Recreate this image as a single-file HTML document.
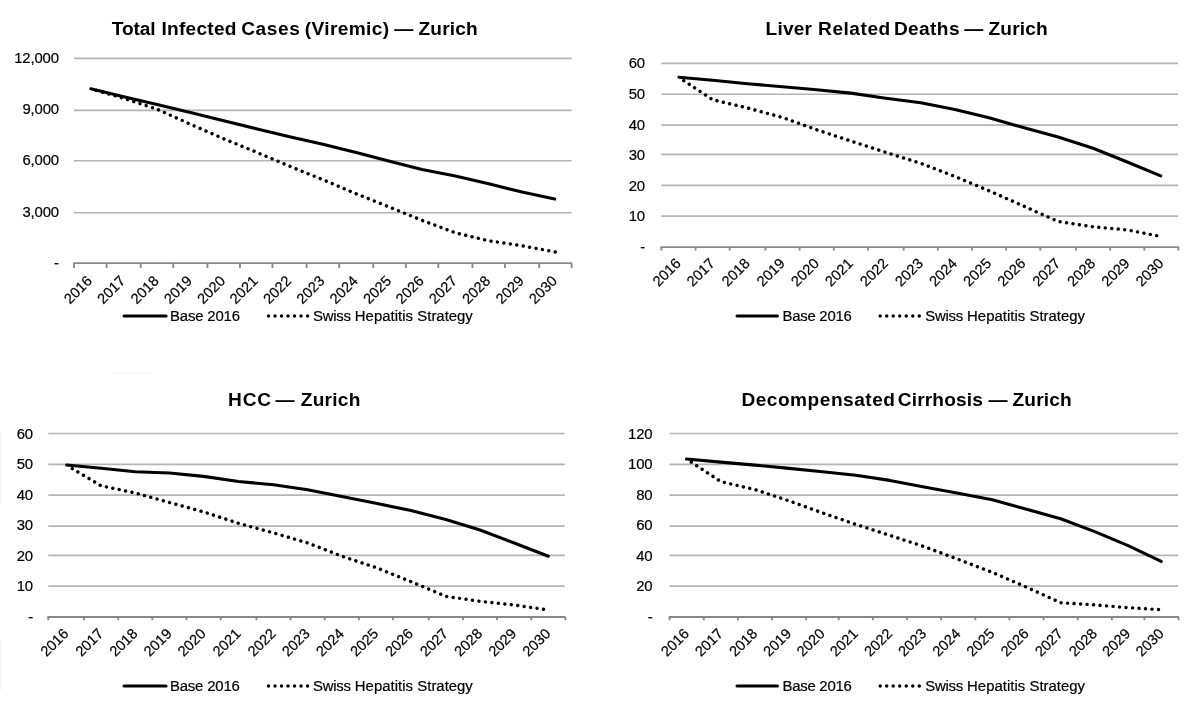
<!DOCTYPE html>
<html lang="en">
<head>
<meta charset="utf-8">
<title>Zurich hepatitis C projections</title>
<style>
html,body{margin:0;padding:0;background:#fff;}
body{width:1200px;height:715px;overflow:hidden;}
svg{display:block;}
text{font-family:"Liberation Sans", Arial, Helvetica, sans-serif;fill:#000;stroke:#000;stroke-width:0.2px;stroke-linejoin:round;}
.t{font-size:19.1px;font-weight:700;stroke:none;}
.a{font-size:14.9px;}
.y{letter-spacing:-0.15px;}
.r{font-size:14.6px;}
.g{stroke:#b4b4b4;stroke-width:1.7;fill:none;}
.x{stroke:#888888;stroke-width:1.85;fill:none;}
.s{stroke:#000;stroke-width:3.1;fill:none;stroke-linecap:round;stroke-linejoin:round;}
.d{stroke:#000;stroke-width:3.45;fill:none;stroke-linecap:round;stroke-linejoin:round;stroke-dasharray:0.01 6.5;stroke-dashoffset:1;}
</style>
</head>
<body>
<svg width="1200" height="715" viewBox="0 0 1200 715">
<rect x="0" y="0" width="1200" height="715" fill="#ffffff"/>
<g fill="#f6f6f6"><rect x="0" y="432" width="1.6" height="72"/><rect x="0" y="640" width="1.6" height="50"/><rect x="112" y="372.6" width="40" height="1.2"/></g>
<g>
<text class="t" y="35.1"><tspan x="111.75" textLength="43.88" lengthAdjust="spacing">Total</tspan> <tspan x="161.56" textLength="74.87" lengthAdjust="spacing">Infected</tspan> <tspan x="241.2" textLength="58.57" lengthAdjust="spacing">Cases</tspan> <tspan x="304.85" textLength="84.14" lengthAdjust="spacing">(Viremic)</tspan> <tspan x="394.35">—</tspan> <tspan x="418.45" textLength="59.27" lengthAdjust="spacing">Zurich</tspan></text>
<line class="g" x1="74" y1="58.3" x2="571.6" y2="58.3"/>
<line class="g" x1="74" y1="110.33" x2="571.6" y2="110.33"/>
<line class="g" x1="74" y1="160.74" x2="571.6" y2="160.74"/>
<line class="g" x1="74" y1="212.77" x2="571.6" y2="212.77"/>
<line class="x" x1="73.17" y1="263.18" x2="571.96" y2="263.18"/>
<path class="x" d="M74.1 263.18v4.9M106.62 263.18v4.9M140.77 263.18v4.9M173.29 263.18v4.9M207.43 263.18v4.9M239.95 263.18v4.9M272.47 263.18v4.9M306.62 263.18v4.9M339.14 263.18v4.9M373.28 263.18v4.9M405.8 263.18v4.9M438.32 263.18v4.9M472.47 263.18v4.9M504.99 263.18v4.9M539.14 263.18v4.9M571.66 263.18v4.9"/>
<text class="a y" text-anchor="end" x="58.9" y="63">12,000</text>
<text class="a y" text-anchor="end" x="58.9" y="114.22">9,000</text>
<text class="a y" text-anchor="end" x="58.9" y="165.44">6,000</text>
<text class="a y" text-anchor="end" x="58.9" y="216.66">3,000</text>
<text class="a y" text-anchor="end" x="58.9" y="267.88">-</text>
<text class="a r" text-anchor="end" transform="translate(92.96 281.68) rotate(-45)">2016</text>
<text class="a r" text-anchor="end" transform="translate(126.29 281.68) rotate(-45)">2017</text>
<text class="a r" text-anchor="end" transform="translate(159.63 281.68) rotate(-45)">2018</text>
<text class="a r" text-anchor="end" transform="translate(192.96 281.68) rotate(-45)">2019</text>
<text class="a r" text-anchor="end" transform="translate(226.29 281.68) rotate(-45)">2020</text>
<text class="a r" text-anchor="end" transform="translate(258.81 281.68) rotate(-45)">2021</text>
<text class="a r" text-anchor="end" transform="translate(292.14 281.68) rotate(-45)">2022</text>
<text class="a r" text-anchor="end" transform="translate(325.48 281.68) rotate(-45)">2023</text>
<text class="a r" text-anchor="end" transform="translate(358.81 281.68) rotate(-45)">2024</text>
<text class="a r" text-anchor="end" transform="translate(392.14 281.68) rotate(-45)">2025</text>
<text class="a r" text-anchor="end" transform="translate(424.66 281.68) rotate(-45)">2026</text>
<text class="a r" text-anchor="end" transform="translate(458 281.68) rotate(-45)">2027</text>
<text class="a r" text-anchor="end" transform="translate(491.33 281.68) rotate(-45)">2028</text>
<text class="a r" text-anchor="end" transform="translate(524.66 281.68) rotate(-45)">2029</text>
<text class="a r" text-anchor="end" transform="translate(558 281.68) rotate(-45)">2030</text>
<polyline class="d" style="stroke-dashoffset:0.8" points="90.86,88.84 123.69,98.3 157.03,109.2 190.36,124.2 223.69,138.8 256.21,152.1 289.54,166.2 322.88,179.7 356.21,193.8 389.54,207.1 422.06,220.4 455.4,232.8 488.73,240.8 522.06,245.8 555.4,252"/>
<polyline class="s" points="90.86,88.82 123.69,96.7 157.03,104.5 190.36,112.5 223.69,120.7 256.21,128.7 289.54,136.7 322.88,144.2 356.21,152.5 389.54,161.2 422.06,169.6 455.4,175.9 488.73,183.8 522.06,192 554.7,199.05"/>
<line class="s" x1="124.05" y1="316" x2="166.05" y2="316"/>
<text class="a" x="170" y="320.7" textLength="70" lengthAdjust="spacing">Base 2016</text>
<line class="d" style="stroke-dashoffset:0" x1="268.5" y1="316" x2="308.02" y2="316"/>
<text class="a" y="320.7"><tspan x="313.03" textLength="37.93" lengthAdjust="spacing">Swiss</tspan> <tspan x="354.84" textLength="58.13" lengthAdjust="spacing">Hepatitis</tspan> <tspan x="417.33" textLength="55.47" lengthAdjust="spacing">Strategy</tspan></text>
</g>
<g>
<text class="t" y="35.1"><tspan x="765.56" textLength="46.46" lengthAdjust="spacing">Liver</tspan> <tspan x="818.06" textLength="72.17" lengthAdjust="spacing">Related</tspan> <tspan x="893.91" textLength="65.62" lengthAdjust="spacing">Deaths</tspan> <tspan x="964.35">—</tspan> <tspan x="988.45" textLength="59.27" lengthAdjust="spacing">Zurich</tspan></text>
<line class="g" x1="661.3" y1="63.35" x2="1178" y2="63.35"/>
<line class="g" x1="661.3" y1="94.24" x2="1178" y2="94.24"/>
<line class="g" x1="661.3" y1="125.14" x2="1178" y2="125.14"/>
<line class="g" x1="661.3" y1="154.41" x2="1178" y2="154.41"/>
<line class="g" x1="661.3" y1="185.3" x2="1178" y2="185.3"/>
<line class="g" x1="661.3" y1="216.19" x2="1178" y2="216.19"/>
<line class="x" x1="660.48" y1="247.09" x2="1178.77" y2="247.09"/>
<path class="x" d="M661.4 247.09v3.3M695.55 247.09v3.3M729.69 247.09v3.3M765.46 247.09v3.3M799.61 247.09v3.3M833.76 247.09v3.3M867.9 247.09v3.3M903.67 247.09v3.3M937.82 247.09v3.3M971.97 247.09v3.3M1006.11 247.09v3.3M1040.26 247.09v3.3M1076.03 247.09v3.3M1110.18 247.09v3.3M1144.32 247.09v3.3M1178.47 247.09v3.3"/>
<text class="a y" text-anchor="end" x="645" y="68.35">60</text>
<text class="a y" text-anchor="end" x="645" y="98.97">50</text>
<text class="a y" text-anchor="end" x="645" y="129.6">40</text>
<text class="a y" text-anchor="end" x="645" y="160.22">30</text>
<text class="a y" text-anchor="end" x="645" y="190.84">20</text>
<text class="a y" text-anchor="end" x="645" y="221.47">10</text>
<text class="a y" text-anchor="end" x="645" y="252.09">-</text>
<text class="a r" text-anchor="end" transform="translate(681.67 264.29) rotate(-45)">2016</text>
<text class="a r" text-anchor="end" transform="translate(715.82 264.29) rotate(-45)">2017</text>
<text class="a r" text-anchor="end" transform="translate(750.78 264.29) rotate(-45)">2018</text>
<text class="a r" text-anchor="end" transform="translate(785.74 264.29) rotate(-45)">2019</text>
<text class="a r" text-anchor="end" transform="translate(819.88 264.29) rotate(-45)">2020</text>
<text class="a r" text-anchor="end" transform="translate(854.03 264.29) rotate(-45)">2021</text>
<text class="a r" text-anchor="end" transform="translate(888.99 264.29) rotate(-45)">2022</text>
<text class="a r" text-anchor="end" transform="translate(923.95 264.29) rotate(-45)">2023</text>
<text class="a r" text-anchor="end" transform="translate(958.09 264.29) rotate(-45)">2024</text>
<text class="a r" text-anchor="end" transform="translate(992.24 264.29) rotate(-45)">2025</text>
<text class="a r" text-anchor="end" transform="translate(1026.38 264.29) rotate(-45)">2026</text>
<text class="a r" text-anchor="end" transform="translate(1061.34 264.29) rotate(-45)">2027</text>
<text class="a r" text-anchor="end" transform="translate(1096.3 264.29) rotate(-45)">2028</text>
<text class="a r" text-anchor="end" transform="translate(1130.45 264.29) rotate(-45)">2029</text>
<text class="a r" text-anchor="end" transform="translate(1164.59 264.29) rotate(-45)">2030</text>
<polyline class="d" style="stroke-dashoffset:0.8" points="678.97,77.53 712.62,99.7 747.58,108 782.54,117.5 816.68,129.8 850.83,141 885.79,152.4 920.75,163.3 954.89,176.5 989.04,190.8 1023.18,205.9 1058.14,221.5 1093.1,226.8 1127.25,229.9 1161.39,236.6"/>
<polyline class="s" points="678.97,77.25 712.62,80.3 747.58,83.7 782.54,86.7 816.68,89.7 850.83,93.1 885.79,98.3 920.75,102.8 954.89,109.5 989.04,117.8 1023.18,127.5 1058.14,137 1093.1,148.3 1127.25,162 1160.69,175.91"/>
<line class="s" x1="737.05" y1="316" x2="777.45" y2="316"/>
<text class="a" x="782.5" y="320.7" textLength="69.3" lengthAdjust="spacing">Base 2016</text>
<line class="d" style="stroke-dashoffset:0" x1="880.2" y1="316" x2="919.72" y2="316"/>
<text class="a" y="320.7"><tspan x="925.23" textLength="37.93" lengthAdjust="spacing">Swiss</tspan> <tspan x="967.04" textLength="58.13" lengthAdjust="spacing">Hepatitis</tspan> <tspan x="1029.53" textLength="55.47" lengthAdjust="spacing">Strategy</tspan></text>
</g>
<g>
<text class="t" y="405.5"><tspan x="228.11" textLength="42.96" lengthAdjust="spacing">HCC</tspan> <tspan x="275.55">—</tspan> <tspan x="300.7" textLength="59.72" lengthAdjust="spacing">Zurich</tspan></text>
<line class="g" x1="48.3" y1="433.5" x2="564.8" y2="433.5"/>
<line class="g" x1="48.3" y1="464.36" x2="564.8" y2="464.36"/>
<line class="g" x1="48.3" y1="495.21" x2="564.8" y2="495.21"/>
<line class="g" x1="48.3" y1="526.07" x2="564.8" y2="526.07"/>
<line class="g" x1="48.3" y1="555.3" x2="564.8" y2="555.3"/>
<line class="g" x1="48.3" y1="586.16" x2="564.8" y2="586.16"/>
<line class="x" x1="47.38" y1="617.01" x2="565.67" y2="617.01"/>
<path class="x" d="M48.3 617.01v3.3M84.07 617.01v3.3M118.22 617.01v3.3M152.36 617.01v3.3M186.51 617.01v3.3M220.66 617.01v3.3M256.43 617.01v3.3M290.57 617.01v3.3M324.72 617.01v3.3M358.87 617.01v3.3M393.01 617.01v3.3M428.78 617.01v3.3M462.93 617.01v3.3M497.08 617.01v3.3M531.22 617.01v3.3M565.37 617.01v3.3"/>
<text class="a y" text-anchor="end" x="33" y="438.5">60</text>
<text class="a y" text-anchor="end" x="33" y="469.09">50</text>
<text class="a y" text-anchor="end" x="33" y="499.67">40</text>
<text class="a y" text-anchor="end" x="33" y="530.26">30</text>
<text class="a y" text-anchor="end" x="33" y="560.84">20</text>
<text class="a y" text-anchor="end" x="33" y="591.43">10</text>
<text class="a y" text-anchor="end" x="33" y="622.01">-</text>
<text class="a r" text-anchor="end" transform="translate(69.39 634.41) rotate(-45)">2016</text>
<text class="a r" text-anchor="end" transform="translate(104.34 634.41) rotate(-45)">2017</text>
<text class="a r" text-anchor="end" transform="translate(138.49 634.41) rotate(-45)">2018</text>
<text class="a r" text-anchor="end" transform="translate(172.64 634.41) rotate(-45)">2019</text>
<text class="a r" text-anchor="end" transform="translate(206.78 634.41) rotate(-45)">2020</text>
<text class="a r" text-anchor="end" transform="translate(241.74 634.41) rotate(-45)">2021</text>
<text class="a r" text-anchor="end" transform="translate(276.7 634.41) rotate(-45)">2022</text>
<text class="a r" text-anchor="end" transform="translate(310.85 634.41) rotate(-45)">2023</text>
<text class="a r" text-anchor="end" transform="translate(344.99 634.41) rotate(-45)">2024</text>
<text class="a r" text-anchor="end" transform="translate(379.14 634.41) rotate(-45)">2025</text>
<text class="a r" text-anchor="end" transform="translate(414.1 634.41) rotate(-45)">2026</text>
<text class="a r" text-anchor="end" transform="translate(449.06 634.41) rotate(-45)">2027</text>
<text class="a r" text-anchor="end" transform="translate(483.2 634.41) rotate(-45)">2028</text>
<text class="a r" text-anchor="end" transform="translate(517.35 634.41) rotate(-45)">2029</text>
<text class="a r" text-anchor="end" transform="translate(551.5 634.41) rotate(-45)">2030</text>
<polyline class="d" style="stroke-dashoffset:0.05" points="66.69,465.3 101.14,485.8 135.29,493 169.44,502.5 203.58,511.9 238.54,523.3 273.5,532.9 307.65,542.9 341.79,556.2 375.94,567.6 410.9,581.6 445.86,596.4 480,601.3 514.15,605 548.29,610"/>
<polyline class="s" points="66.69,465.05 101.14,468.3 135.29,471.7 169.44,473 203.58,476.4 238.54,481.5 273.5,484.8 307.65,489.8 341.79,496.6 375.94,503.3 410.9,510.6 445.86,519.5 480,530 514.15,543 548.39,556.24"/>
<line class="s" x1="124.05" y1="686" x2="166.05" y2="686"/>
<text class="a" x="170" y="690.7" textLength="69.8" lengthAdjust="spacing">Base 2016</text>
<line class="d" style="stroke-dashoffset:0" x1="268.5" y1="686" x2="308.02" y2="686"/>
<text class="a" y="690.7"><tspan x="313.03" textLength="37.93" lengthAdjust="spacing">Swiss</tspan> <tspan x="354.84" textLength="58.13" lengthAdjust="spacing">Hepatitis</tspan> <tspan x="417.33" textLength="55.47" lengthAdjust="spacing">Strategy</tspan></text>
</g>
<g>
<text class="t" y="405.5"><tspan x="741.41" textLength="153.52" lengthAdjust="spacing">Decompensated</tspan> <tspan x="897.8" textLength="84.97" lengthAdjust="spacing">Cirrhosis</tspan> <tspan x="988.43">—</tspan> <tspan x="1012.45" textLength="59.27" lengthAdjust="spacing">Zurich</tspan></text>
<line class="g" x1="669.6" y1="433.5" x2="1178" y2="433.5"/>
<line class="g" x1="669.6" y1="464.36" x2="1178" y2="464.36"/>
<line class="g" x1="669.6" y1="495.21" x2="1178" y2="495.21"/>
<line class="g" x1="669.6" y1="526.07" x2="1178" y2="526.07"/>
<line class="g" x1="669.6" y1="555.3" x2="1178" y2="555.3"/>
<line class="g" x1="669.6" y1="586.16" x2="1178" y2="586.16"/>
<line class="x" x1="668.68" y1="617.01" x2="1178.84" y2="617.01"/>
<path class="x" d="M669.6 617.01v3.3M703.75 617.01v3.3M737.89 617.01v3.3M772.04 617.01v3.3M806.18 617.01v3.3M838.7 617.01v3.3M872.85 617.01v3.3M907 617.01v3.3M941.14 617.01v3.3M975.29 617.01v3.3M1009.43 617.01v3.3M1043.58 617.01v3.3M1077.73 617.01v3.3M1111.87 617.01v3.3M1144.39 617.01v3.3M1178.54 617.01v3.3"/>
<text class="a y" text-anchor="end" x="652.5" y="438.5">120</text>
<text class="a y" text-anchor="end" x="652.5" y="469.09">100</text>
<text class="a y" text-anchor="end" x="652.5" y="499.67">80</text>
<text class="a y" text-anchor="end" x="652.5" y="530.26">60</text>
<text class="a y" text-anchor="end" x="652.5" y="560.84">40</text>
<text class="a y" text-anchor="end" x="652.5" y="591.43">20</text>
<text class="a y" text-anchor="end" x="652.5" y="622.01">-</text>
<text class="a r" text-anchor="end" transform="translate(689.87 634.41) rotate(-45)">2016</text>
<text class="a r" text-anchor="end" transform="translate(724.02 634.41) rotate(-45)">2017</text>
<text class="a r" text-anchor="end" transform="translate(758.17 634.41) rotate(-45)">2018</text>
<text class="a r" text-anchor="end" transform="translate(792.31 634.41) rotate(-45)">2019</text>
<text class="a r" text-anchor="end" transform="translate(825.64 634.41) rotate(-45)">2020</text>
<text class="a r" text-anchor="end" transform="translate(858.98 634.41) rotate(-45)">2021</text>
<text class="a r" text-anchor="end" transform="translate(893.12 634.41) rotate(-45)">2022</text>
<text class="a r" text-anchor="end" transform="translate(927.27 634.41) rotate(-45)">2023</text>
<text class="a r" text-anchor="end" transform="translate(961.42 634.41) rotate(-45)">2024</text>
<text class="a r" text-anchor="end" transform="translate(995.56 634.41) rotate(-45)">2025</text>
<text class="a r" text-anchor="end" transform="translate(1029.71 634.41) rotate(-45)">2026</text>
<text class="a r" text-anchor="end" transform="translate(1063.85 634.41) rotate(-45)">2027</text>
<text class="a r" text-anchor="end" transform="translate(1098 634.41) rotate(-45)">2028</text>
<text class="a r" text-anchor="end" transform="translate(1131.33 634.41) rotate(-45)">2029</text>
<text class="a r" text-anchor="end" transform="translate(1164.66 634.41) rotate(-45)">2030</text>
<polyline class="d" style="stroke-dashoffset:0.8" points="686.47,458.97 720.82,481.6 754.97,489.6 789.11,500.9 822.44,512.9 855.78,524.4 889.92,535.4 924.07,546.6 958.22,559.4 992.36,572.4 1026.51,587.2 1060.65,602.7 1094.8,604.9 1128.13,607.6 1161.47,609.7"/>
<polyline class="s" points="686.47,459.08 720.82,462.1 754.97,465.1 789.11,468.4 822.44,471.7 855.78,475.3 889.92,480.4 924.07,487.1 958.22,493.2 992.36,499.8 1026.51,509.2 1060.65,518.7 1094.8,531.6 1128.13,545.6 1161.17,561.46"/>
<line class="s" x1="737.05" y1="686" x2="777.45" y2="686"/>
<text class="a" x="782.5" y="690.7" textLength="69.3" lengthAdjust="spacing">Base 2016</text>
<line class="d" style="stroke-dashoffset:0" x1="880.2" y1="686" x2="919.72" y2="686"/>
<text class="a" y="690.7"><tspan x="925.23" textLength="37.93" lengthAdjust="spacing">Swiss</tspan> <tspan x="967.04" textLength="58.13" lengthAdjust="spacing">Hepatitis</tspan> <tspan x="1029.53" textLength="55.47" lengthAdjust="spacing">Strategy</tspan></text>
</g>
</svg>
</body>
</html>
